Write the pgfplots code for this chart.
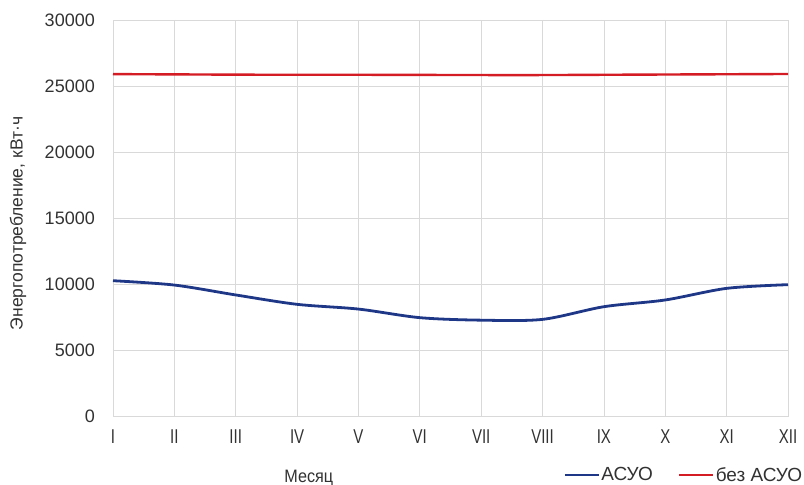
\documentclass[border=0pt]{standalone}
\usepackage{fontspec}
\setmainfont{Liberation Sans}
\newfontfamily\narrowfont[FakeStretch=0.9]{Liberation Sans}
\newfontfamily\condfont[FakeStretch=0.75]{Liberation Sans}
\usepackage{pgfplots}
\pgfplotsset{compat=1.18}
\definecolor{asuo}{RGB}{30,55,135}
\definecolor{bez}{RGB}{212,28,36}
\definecolor{gridc}{RGB}{217,217,217}
\definecolor{labc}{RGB}{50,50,50}
\begin{document}
\begin{tikzpicture}
\useasboundingbox (0,0) rectangle (804bp,485bp);
\begin{axis}[
  at={(113bp,69bp)}, anchor=south west,
  scale only axis, width=675bp, height=396bp,
  xmin=0, xmax=11, ymin=0, ymax=30000,
  xtick={0,...,11},
  xticklabels={I,II,III,IV,V,VI,VII,VIII,IX,X,XI,XII},
  ytick={0,5000,10000,15000,20000,25000,30000},
  scaled y ticks=false,
  major tick length=0pt,
  grid=major,
  major grid style={draw=gridc, line width=0.8bp},
  axis line style={draw=gridc, line width=0.8bp},
  /pgf/number format/assume math mode=true,
  /pgf/number format/1000 sep={},
  yticklabel style={font=\fontsize{18bp}{20bp}\selectfont, text=labc, anchor=east, inner sep=0pt, xshift=-18bp},
  xticklabel style={font=\condfont\fontsize{20bp}{22bp}\selectfont, text=labc, anchor=north, inner sep=0pt, yshift=-14bp},
  ylabel={Энергопотребление, кВт·ч},
  ylabel style={font=\fontsize{17.5bp}{20bp}\selectfont, text=labc, at={(axis description cs:-0.1407,0.486)}, anchor=center},
  xlabel={Месяц},
  xlabel style={font=\narrowfont\fontsize{18bp}{20bp}\selectfont, text=labc, at={(axis description cs:0.290,-0.1667)}, anchor=base},
  legend columns=2,
  legend style={draw=none, fill=none, inner sep=0pt, at={(axis description cs:1.023,-0.149)}, anchor=east,
    font=\fontsize{19bp}{21bp}\selectfont, text=labc,
    /tikz/every even column/.append style={column sep=24bp},
    nodes={inner sep=1.2bp}},
  legend image code/.code={\draw[#1] (0bp,0bp) -- (34bp,0bp);},
  clip=false,
]
\addplot[asuo, line width=2.8bp, smooth, tension=0.5] coordinates {
  (0,10250) (1,9920) (2,9170) (3,8460) (4,8100) (5,7450)
  (6,7260) (7,7320) (8,8280) (9,8790) (10,9670) (11,9950)
};
\addlegendentry{АСУО}
\addplot[bez, line width=2.4bp, smooth, tension=0.5] coordinates {
  (0,25900) (1,25880) (2,25860) (3,25850) (4,25850) (5,25840)
  (6,25830) (7,25830) (8,25850) (9,25870) (10,25890) (11,25910)
};
\addlegendentry{без АСУО}
\end{axis}
\end{tikzpicture}
\end{document}
